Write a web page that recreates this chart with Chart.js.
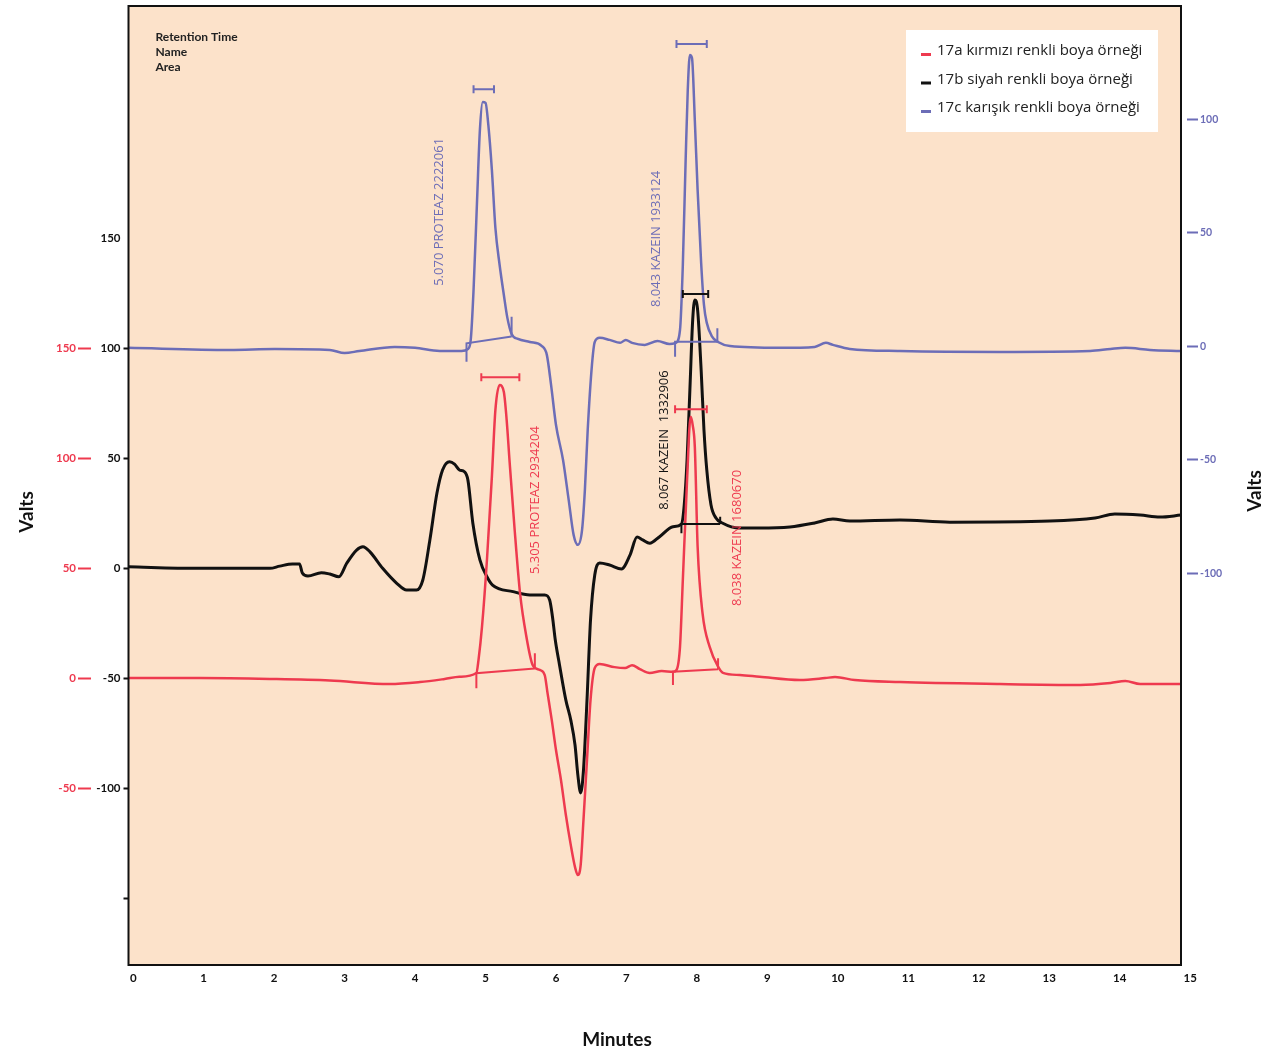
<!DOCTYPE html>
<html>
<head>
<meta charset="utf-8">
<script src="https://cdn.jsdelivr.net/npm/chart.js@4.4.1/dist/chart.umd.min.js"></script>
<style>
  html, body { margin: 0; padding: 0; background: #fff; }
</style>
</head>
<body>
<canvas id="chart" width="1265" height="1055"></canvas>
<script>
// Veriler (dakika / sinyal)
const seriesNames = ['17a kırmızı renkli boya örneği', '17b siyah renkli boya örneği', '17c karışık renkli boya örneği'];

const redTime = [-0.07, 0.94, 1.94, 2.79, 3.64, 4.07, 4.42, 4.63, 4.87, 4.90, 4.95, 5.02, 5.09, 5.14, 5.20, 5.26, 5.30, 5.34, 5.41, 5.49, 5.58, 5.67, 5.77, 5.84, 5.88, 5.94, 6.00, 6.07, 6.14, 6.21, 6.27, 6.31, 6.35, 6.39, 6.44, 6.49, 6.55, 6.62, 6.83, 6.98, 7.08, 7.19, 7.33, 7.50, 7.66, 7.71, 7.76, 7.80, 7.86, 7.91, 7.94, 7.97, 8.01, 8.08, 8.18, 8.30, 8.37, 8.61, 8.89, 9.46, 9.82, 9.96, 10.24, 10.88, 12.30, 13.44, 13.87, 14.08, 14.29, 14.87];
const redSignal = [0.1, 0.1, -0.3, -1.0, -2.6, -1.7, -0.3, 0.7, 2.4, 8.3, 23.5, 53.8, 91.6, 122.0, 133.3, 130.1, 117.4, 99.2, 68.9, 38.6, 18.9, 6.0, 3.8, 1.5, -6.7, -19.0, -32.6, -46.1, -62.1, -75.8, -85.8, -89.4, -84.9, -64.4, -37.1, -9.9, 4.7, 6.5, 5.1, 4.7, 6.0, 4.2, 2.4, 3.3, 3.0, 3.8, 14.4, 44.7, 90.1, 118.9, 115.1, 105.3, 59.8, 29.5, 14.4, 5.3, 2.5, 1.5, 0.7, -0.8, 0.1, 0.6, -0.8, -1.7, -2.6, -3.0, -2.1, -1.2, -2.6, -2.6];

const blackTime = [-0.07, 0.90, 1.94, 2.08, 2.26, 2.36, 2.40, 2.48, 2.67, 2.79, 2.92, 3.03, 3.17, 3.26, 3.36, 3.54, 3.74, 3.88, 4.02, 4.11, 4.21, 4.31, 4.39, 4.49, 4.56, 4.63, 4.70, 4.75, 4.82, 4.92, 5.02, 5.10, 5.39, 5.63, 5.84, 5.91, 5.95, 5.99, 6.05, 6.14, 6.21, 6.27, 6.31, 6.35, 6.39, 6.44, 6.49, 6.55, 6.62, 6.76, 6.93, 7.05, 7.15, 7.23, 7.33, 7.47, 7.66, 7.78, 7.82, 7.86, 7.90, 7.94, 7.97, 8.01, 8.06, 8.10, 8.14, 8.20, 8.27, 8.36, 8.61, 8.89, 9.32, 9.67, 9.93, 10.17, 10.88, 11.59, 13.01, 13.65, 13.93, 14.29, 14.57, 14.87];
const blackSignal = [0.7, 0, 0, 1.0, 2.0, 2.0, -2.1, -3.5, -2.0, -2.6, -3.8, 2.3, 8.3, 9.8, 7.5, 0, -6.8, -9.9, -9.9, -5.3, 12.9, 34.1, 44.7, 48.5, 47.4, 44.7, 43.9, 40.1, 20.5, 3.8, -3.8, -7.6, -10.6, -12.1, -12.1, -14.4, -22.0, -32.6, -43.9, -59.9, -69.0, -80.3, -93.9, -102.1, -91.7, -59.9, -23.5, -3.0, 2.4, 1.5, -0.3, 6.0, 14.2, 12.9, 11.4, 14.4, 18.9, 20.1, 28.8, 49.2, 81.0, 112.9, 122.0, 117.4, 90.1, 62.9, 44.7, 28.8, 22.9, 20.6, 18.3, 18.3, 18.8, 20.6, 22.4, 21.5, 22.0, 21.0, 21.5, 22.9, 24.7, 24.2, 23.3, 24.2];

const purpleTime = [-0.07, 1.37, 2.01, 2.79, 3.00, 3.21, 3.71, 4.00, 4.35, 4.66, 4.75, 4.79, 4.83, 4.88, 4.92, 4.96, 5.00, 5.04, 5.09, 5.14, 5.20, 5.26, 5.31, 5.37, 5.46, 5.63, 5.80, 5.87, 5.93, 6.00, 6.10, 6.18, 6.25, 6.31, 6.37, 6.41, 6.45, 6.51, 6.55, 6.62, 6.76, 6.91, 6.99, 7.08, 7.26, 7.44, 7.61, 7.70, 7.76, 7.80, 7.84, 7.87, 7.90, 7.93, 7.97, 8.01, 8.06, 8.10, 8.14, 8.21, 8.30, 8.47, 9.18, 9.67, 9.83, 9.93, 10.17, 10.88, 12.30, 13.58, 13.87, 14.08, 14.43, 14.87];
const purpleSignal = [-0.7, -1.6, -1.2, -1.6, -3.0, -2.1, -0.3, -0.7, -2.1, -2.1, -1.2, 2.8, 24.8, 64.4, 95.3, 107.6, 107.2, 97.4, 77.7, 52.1, 35.8, 22.6, 12.5, 5.4, 3.2, 1.9, 0.1, -3.8, -17.0, -34.7, -50.1, -67.7, -83.1, -87.5, -80.9, -63.3, -36.9, -8.3, 1.9, 3.7, 2.8, 1.5, 2.8, 1.5, 0.6, 2.3, 1.0, 1.5, 7.2, 35.8, 82.1, 112.9, 128.3, 127.0, 99.7, 68.8, 36.7, 18.2, 10.3, 4.5, 1.9, 0.1, -0.7, -0.3, 1.5, 0.6, -1.2, -2.1, -2.5, -2.1, -1.2, -0.7, -1.6, -2.1];

const minuteTicks = [0, 1, 2, 3, 4, 5, 6, 7, 8, 9, 10, 11, 12, 13, 14, 15];
const redTicks = [150, 100, 50, 0, -50];
const blackTicks = [150, 100, 50, 0, -50, -100, -150];
const purpleTicks = [100, 50, 0, -50, -100];

// Pik etiketleri, pik işaretleri ve taban çizgileri (eksen birimlerinde)
const peakLabels = [
  { axis: 'yPurple', text: '5.070 PROTEAZ 2222061', x: 4.35, y: 59.2 },
  { axis: 'yPurple', text: '8.043 KAZEIN 1933124', x: 7.43, y: 47.3 },
  { axis: 'yBlack', text: '8.067 KAZEIN  1332906', x: 7.54, y: 58.3 },
  { axis: 'yRed', text: '5.305 PROTEAZ 2934204', x: 5.70, y: 81.0 },
  { axis: 'yRed', text: '8.038 KAZEIN 1680670', x: 8.57, y: 63.8 }
];
const peakBrackets = [
  { axis: 'yPurple', x1: 4.83, x2: 5.12, y: 113.2 },
  { axis: 'yPurple', x1: 7.71, x2: 8.14, y: 133.2 },
  { axis: 'yBlack', x1: 7.80, x2: 8.16, y: 124.7 },
  { axis: 'yRed', x1: 4.94, x2: 5.48, y: 136.8 },
  { axis: 'yRed', x1: 7.69, x2: 8.14, y: 122.3 }
];
const peakBaselines = [
  { axis: 'yPurple', x1: 4.73, y1: 1.3, x2: 5.37, y2: 4.3, low: -6.8, high: 13.0 },
  { axis: 'yPurple', x1: 7.69, y1: 2.0, x2: 8.29, y2: 2.0, low: -4.6, high: 7.9 },
  { axis: 'yBlack', x1: 7.78, y1: 20.1, x2: 8.33, y2: 20.1, low: 15.9, high: 23.5 },
  { axis: 'yRed', x1: 4.87, y1: 2.3, x2: 5.70, y2: 4.5, low: -4.5, high: 11.4 },
  { axis: 'yRed', x1: 7.66, y1: 3.0, x2: 8.30, y2: 4.1, low: -3.0, high: 9.1 }
];

const RED = '#EE3A4F';
const BLACK = '#111111';
const PURPLE = '#6C6DB7';
const PEACH = '#FCE2CA';
const axisColor = { yRed: RED, yBlack: BLACK, yPurple: PURPLE };
const tickFont = { family: 'Lato', size: 11.5, weight: 'bold' };

function toPoints(xs, ys) {
  return xs.map((x, i) => ({ x: x, y: ys[i] }));
}
function fixTicks(list) {
  return function(scale) { scale.ticks = list.map(v => ({ value: v })); };
}
// eksen genişliği sabit, etiket taşması için ek boşluk yok
function fixWidth(w) {
  return function(scale) {
    scale.width = w;
    scale.paddingTop = 0;
    scale.paddingBottom = 0;
  };
}

// Arka plan, çerçeve, işaretler, lejand ve başlıklar
const decorPlugin = {
  id: 'decor',
  beforeDraw(chart) {
    const a = chart.chartArea, c = chart.ctx;
    c.save();
    c.fillStyle = PEACH;
    c.fillRect(a.left, a.top, a.right - a.left, a.bottom - a.top);
    c.restore();
  },
  afterDatasetsDraw(chart) {
    const c = chart.ctx, xs = chart.scales.x;
    c.save();
    c.lineWidth = 2;
    peakBaselines.forEach(b => {
      const ys = chart.scales[b.axis];
      c.strokeStyle = axisColor[b.axis];
      c.beginPath();
      c.moveTo(xs.getPixelForValue(b.x1), ys.getPixelForValue(b.low));
      c.lineTo(xs.getPixelForValue(b.x1), ys.getPixelForValue(b.y1));
      c.lineTo(xs.getPixelForValue(b.x2), ys.getPixelForValue(b.y2));
      c.moveTo(xs.getPixelForValue(b.x2), ys.getPixelForValue(b.high));
      c.lineTo(xs.getPixelForValue(b.x2), ys.getPixelForValue(b.y2));
      c.stroke();
    });
    peakBrackets.forEach(b => {
      const ys = chart.scales[b.axis];
      const y = ys.getPixelForValue(b.y);
      const xa = xs.getPixelForValue(b.x1), xb = xs.getPixelForValue(b.x2);
      c.strokeStyle = axisColor[b.axis];
      c.beginPath();
      c.moveTo(xa, y); c.lineTo(xb, y);
      c.moveTo(xa, y - 4); c.lineTo(xa, y + 4);
      c.moveTo(xb, y - 4); c.lineTo(xb, y + 4);
      c.stroke();
    });
    c.font = '13px "Open Sans"';
    c.textAlign = 'center';
    c.textBaseline = 'middle';
    peakLabels.forEach(l => {
      const ys = chart.scales[l.axis];
      c.save();
      c.translate(xs.getPixelForValue(l.x), ys.getPixelForValue(l.y));
      c.rotate(-Math.PI / 2);
      c.fillStyle = axisColor[l.axis];
      c.fillText(l.text, 0, 0);
      c.restore();
    });
    c.restore();
  },
  afterDraw(chart) {
    const a = chart.chartArea, c = chart.ctx;
    c.save();
    c.strokeStyle = BLACK;
    c.lineWidth = 2;
    c.strokeRect(a.left, a.top, a.right - a.left, a.bottom - a.top);

    // sol üst bilgi
    c.fillStyle = '#222';
    c.font = 'bold 12px Lato';
    c.textAlign = 'left';
    c.textBaseline = 'middle';
    ['Retention Time', 'Name', 'Area'].forEach((t, i) => c.fillText(t, a.left + 27, a.top + 31 + i * 15));

    // lejand
    const lx = a.right - 275, ly = a.top + 24;
    c.fillStyle = '#fff';
    c.fillRect(lx, ly, 252, 102);
    c.font = '15px "Open Sans"';
    chart.data.datasets.forEach((ds, i) => {
      const y = ly + 21 + i * 28.5;
      c.fillStyle = ds.borderColor;
      c.fillRect(lx + 15, y + 2, 10, 3);
      c.fillStyle = '#222';
      c.fillText(ds.label, lx + 31, y);
    });

    // eksen başlıkları
    c.fillStyle = BLACK;
    c.font = 'bold 19px Lato';
    c.textAlign = 'center';
    c.fillText('Minutes', 617, 1040);
    [[27, 512], [1255, 491]].forEach(p => {
      c.save();
      c.translate(p[0], p[1]);
      c.rotate(-Math.PI / 2);
      c.fillText('Valts', 0, 0);
      c.restore();
    });
    c.restore();
  }
};

const chart = new Chart(document.getElementById('chart').getContext('2d'), {
  type: 'line',
  data: {
    datasets: [
      { label: seriesNames[0], data: toPoints(redTime, redSignal), yAxisID: 'yRed', borderColor: RED, borderWidth: 2.5 },
      { label: seriesNames[1], data: toPoints(blackTime, blackSignal), yAxisID: 'yBlack', borderColor: BLACK, borderWidth: 3 },
      { label: seriesNames[2], data: toPoints(purpleTime, purpleSignal), yAxisID: 'yPurple', borderColor: PURPLE, borderWidth: 2.5 }
    ]
  },
  options: {
    responsive: false,
    animation: false,
    layout: { padding: { top: 6 } },
    elements: {
      point: { radius: 0 },
      line: { cubicInterpolationMode: 'monotone' }
    },
    plugins: { legend: { display: false }, tooltip: { enabled: false } },
    scales: {
      x: {
        type: 'linear', min: -0.067, max: 14.87,
        afterBuildTicks: fixTicks(minuteTicks),
        afterFit: s => { s.height = 90; s.paddingLeft = 0; s.paddingRight = 0; },
        grid: { display: false, drawTicks: false },
        border: { display: false },
        ticks: { autoSkip: false, maxRotation: 0, padding: 6, color: BLACK, font: tickFont }
      },
      yRed: {
        position: 'left', weight: 1, min: -130.3, max: 305.6,
        afterBuildTicks: fixTicks(redTicks),
        afterFit: fixWidth(91),
        grid: { drawOnChartArea: false, tickLength: 13, tickWidth: 2, tickColor: RED },
        border: { display: false },
        ticks: { color: RED, padding: 2, font: tickFont }
      },
      yBlack: {
        position: 'left', weight: 0, min: -180.3, max: 255.6,
        afterBuildTicks: fixTicks(blackTicks),
        afterFit: fixWidth(37.5),
        grid: {
          drawOnChartArea: false, tickLength: 5, tickWidth: 2,
          tickColor: ctx => (ctx.tick && ctx.tick.value === 150) ? 'rgba(0,0,0,0)' : BLACK
        },
        border: { display: false },
        ticks: { color: BLACK, padding: 3, font: tickFont, callback: v => v === -150 ? '' : v }
      },
      yPurple: {
        position: 'right', min: -272.6, max: 149.9,
        afterBuildTicks: fixTicks(purpleTicks),
        afterFit: fixWidth(84),
        grid: { drawOnChartArea: false, tickLength: 17, tickWidth: 2, tickColor: PURPLE, tickBorderDash: [0, 6, 11, 0] },
        border: { display: false },
        ticks: { color: PURPLE, padding: 2, font: { family: 'Lato', size: 10.5, weight: 'bold' } }
      }
    }
  },
  plugins: [decorPlugin]
});
</script>
</body>
</html>
